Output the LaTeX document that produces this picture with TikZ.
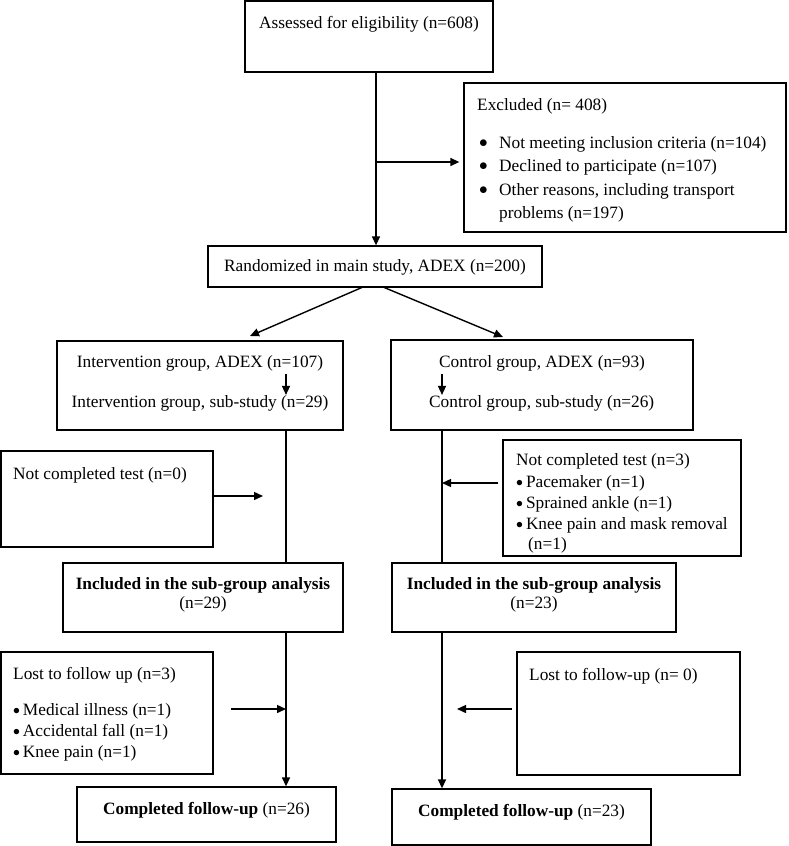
\documentclass[tikz,border=0pt]{standalone}
\usepackage{fontspec}
\setmainfont{Liberation Serif}
\usetikzlibrary{arrows.meta}
\newcommand\bul{\raisebox{0.5pt}{$\bullet$}}
\newcommand\sbul{\raisebox{0.5pt}{\scalebox{0.8}{$\bullet$}}}
\begin{document}
\begin{tikzpicture}[x=1pt,y=-1pt,
  font=\fontsize{17.3}{23}\selectfont,
  box/.style={draw, line width=1.3pt, inner sep=0pt},
  txt/.style={inner sep=0pt, anchor=west},
  ctxt/.style={inner sep=0pt},
  conn/.style={line width=1.4pt},
  arr/.style={line width=1.4pt, -{Triangle[length=9pt,width=8pt]}}]
\useasboundingbox (0,0) rectangle (788,846);
% boxes
\node[box, minimum width=248pt, minimum height=71pt] (assess) at (369,36.5) {};
\node[box, minimum width=322pt, minimum height=149pt] (excl) at (625,157.5) {};
\node[box, minimum width=334pt, minimum height=41pt] (rand) at (375,266.5) {};
\node[box, minimum width=286pt, minimum height=89pt] (interv) at (200,385.5) {};
\node[box, minimum width=302pt, minimum height=90pt] (ctrl) at (542,385) {};
\node[box, minimum width=212pt, minimum height=96pt] (nczero) at (107,499) {};
\node[box, minimum width=238pt, minimum height=116pt] (ncthree) at (622,498) {};
\node[box, minimum width=280pt, minimum height=69pt] (incL) at (203,597.5) {};
\node[box, minimum width=284pt, minimum height=69pt] (incR) at (534,597.5) {};
\node[box, minimum width=212pt, minimum height=122pt] (lostL) at (107,713) {};
\node[box, minimum width=223pt, minimum height=123pt] (lostR) at (628.5,713.5) {};
\node[box, minimum width=259pt, minimum height=55pt] (compL) at (206.5,814.5) {};
\node[box, minimum width=259pt, minimum height=56pt] (compR) at (521.5,817) {};
% texts
\node[ctxt] (t1) at (369,24) {Assessed for eligibility (n=608)};
\node[txt] (e0) at (477,106) {Excluded (n= 408)};
\node[txt] (e1b) at (479,144) {\bul};
\node[txt] (e1) at (499,144) {Not meeting inclusion criteria (n=104)};
\node[txt] (e2b) at (479,167) {\bul};
\node[txt] (e2) at (499,167) {Declined to participate (n=107)};
\node[txt] (e3b) at (479,191) {\bul};
\node[txt] (e3) at (499,191) {Other reasons, including transport};
\node[txt] (e4) at (499,214) {problems (n=197)};
\node[ctxt] (tr) at (375,267) {Randomized in main study, ADEX (n=200)};
\node[ctxt] (i1) at (200,363) {Intervention group, ADEX (n=107)};
\node[ctxt] (i2) at (200,403) {Intervention group, sub-study (n=29)};
\node[txt] (c1) at (439,363) {Control group, ADEX (n=93)};
\node[txt] (c2) at (429,403) {Control group, sub-study (n=26)};
\node[txt] (n0) at (13,475) {Not completed test (n=0)};
\node[txt] (n3) at (516,461) {Not completed test (n=3)};
\node[txt] (n3a) at (516,483) {\sbul\,Pacemaker (n=1)};
\node[txt] (n3b) at (516,504) {\sbul\,Sprained ankle (n=1)};
\node[txt] (n3c) at (516,525) {\sbul\,Knee pain and mask removal};
\node[txt] (n3d) at (528,545) {(n=1)};
\node[ctxt] (iL1) at (203,585) {\textbf{Included in the sub-group analysis}};
\node[ctxt] (iL2) at (203,604) {(n=29)};
\node[ctxt] (iR1) at (534,585) {\textbf{Included in the sub-group analysis}};
\node[ctxt] (iR2) at (534,604) {(n=23)};
\node[txt] (l0) at (13,675) {Lost to follow up (n=3)};
\node[txt] (l1) at (13,711) {\sbul\,Medical illness (n=1)};
\node[txt] (l2) at (13,732) {\sbul\,Accidental fall (n=1)};
\node[txt] (l3) at (13,753) {\sbul\,Knee pain (n=1)};
\node[txt] (r0) at (529,676) {Lost to follow-up (n= 0)};
\node[ctxt] (cl) at (206.5,810) {\textbf{Completed follow-up} (n=26)};
\node[ctxt] (cr) at (521.5,812) {\textbf{Completed follow-up} (n=23)};
% connector coordinates
\coordinate (mx) at (376,0);
\coordinate (jx) at (376,162);
\coordinate (lx) at (286,0);
\coordinate (rx) at (442,0);
\coordinate (dl1) at (363,287);
\coordinate (dl2) at (250,336);
\coordinate (dr1) at (383,287);
\coordinate (dr2) at (503,337);
% connectors
\draw[arr] (assess.south -| mx) -- (rand.north -| mx);
\draw[arr] (jx) -- (excl.west |- jx) [shorten >=4pt];
\draw[arr] (dl1) -- (dl2);
\draw[arr] (dr1) -- (dr2);
\draw[arr] (i1.south -| lx) ++(0,3) -- (i2.north -| lx);
\draw[arr] (c1.south -| rx) ++(0,3) -- (c2.north -| rx);
\draw[conn] (interv.south -| lx) -- (incL.north -| lx);
\draw[arr] (incL.south -| lx) -- (compL.north -| lx);
\draw[conn] (ctrl.south -| rx) -- (incR.north -| rx);
\draw[arr] (incR.south -| rx) -- (compR.north -| rx);
\coordinate (na) at (263,496);
\draw[arr] (nczero.east |- na) -- (na);
\coordinate (nb) at (442,483);
\draw[arr] (ncthree.west |- nb) [shorten <=4pt] -- (nb);
\coordinate (la) at (231,709);
\draw[arr] (la) -- (la -| lx);
\coordinate (lb) at (512,709);
\coordinate (lc) at (457,709);
\draw[arr] (lb) -- (lc);
\end{tikzpicture}
\end{document}
